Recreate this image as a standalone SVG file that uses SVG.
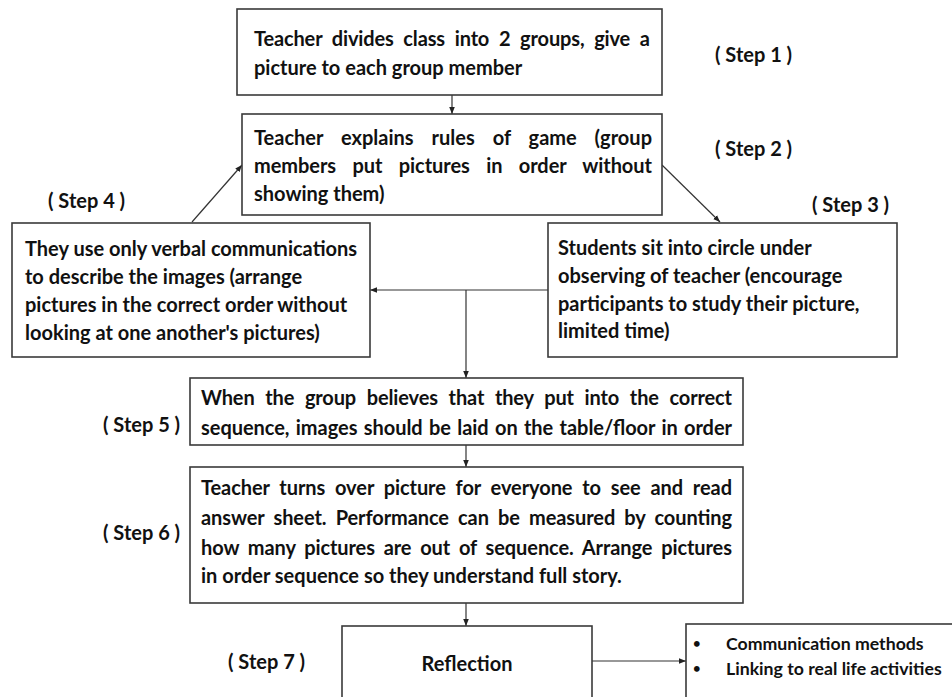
<svg xmlns="http://www.w3.org/2000/svg" width="952" height="697" viewBox="0 0 952 697">
  <defs>
    <marker id="ah" viewBox="0 0 10 10" refX="10" refY="5" markerWidth="7" markerHeight="7" orient="auto" markerUnits="userSpaceOnUse">
      <path d="M0,1 L10,5 L0,9 z" fill="#222"/>
    </marker>
  </defs>
  <style>
    .box{fill:#fff;stroke:#3a3a3a;stroke-width:1.6}
    .t{font-family:Lato,"Liberation Sans",sans-serif;font-weight:700;font-size:20px;fill:#111}
    .s{font-size:17.7px}
    .b{font-size:13px}
    .c{stroke:#333;stroke-width:1.2;fill:none;marker-end:url(#ah)}
  </style>
  <rect width="952" height="697" fill="#fff"/>

  <!-- connectors -->
  <g id="connectors">
    <path class="c" d="M452,95 L452,114"/>
    <path class="c" d="M662,165 L720,222"/>
    <path class="c" d="M548,290 L370,290"/>
    <path class="c" d="M192,222 L242,165"/>
    <path class="c" d="M466,290 L466,378"/>
    <path class="c" d="M466,445 L466,467"/>
    <path class="c" d="M466,603 L466,626"/>
    <path class="c" d="M592,661 L686,661"/>
  </g>

  <g id="step1">
    <rect class="box" x="237" y="9" width="425" height="86"/>
    <text class="t" x="254" y="46" word-spacing="5" textLength="396" lengthAdjust="spacing">Teacher divides class into 2 groups, give a</text>
    <text class="t" x="254" y="75">picture to each group member</text>
    <text class="t" x="715" y="62">( Step 1 )</text>
  </g>

  <g id="step2">
    <rect class="box" x="242" y="114" width="420" height="101"/>
    <text class="t" x="254" y="145" word-spacing="13" textLength="398" lengthAdjust="spacing">Teacher explains rules of game (group</text>
    <text class="t" x="254" y="173" word-spacing="11.5" textLength="398" lengthAdjust="spacing">members put pictures in order without</text>
    <text class="t" x="254" y="201">showing them)</text>
    <text class="t" x="715" y="156">( Step 2 )</text>
  </g>

  <g id="step3">
    <rect class="box" x="548" y="223" width="349" height="134"/>
    <text class="t" x="558" y="255">Students sit into circle under</text>
    <text class="t" x="558" y="283">observing of teacher (encourage</text>
    <text class="t" x="558" y="311">participants to study their picture,</text>
    <text class="t" x="558" y="338">limited time)</text>
    <text class="t" x="812" y="212">( Step 3 )</text>
  </g>

  <g id="step4">
    <rect class="box" x="12" y="223" width="358" height="134"/>
    <text class="t" x="25" y="256">They use only verbal communications</text>
    <text class="t" x="25" y="284">to describe the images (arrange</text>
    <text class="t" x="25" y="312">pictures in the correct order without</text>
    <text class="t" x="25" y="340">looking at one another's pictures)</text>
    <text class="t" x="48" y="208">( Step 4 )</text>
  </g>

  <g id="step5">
    <rect class="box" x="190" y="378" width="553" height="67"/>
    <text class="t" x="201" y="405" word-spacing="6" textLength="531" lengthAdjust="spacing">When the group believes that they put into the correct</text>
    <text class="t" x="201" y="435" word-spacing="1.5" textLength="531" lengthAdjust="spacing">sequence, images should be laid on the table/floor in order</text>
    <text class="t" x="103" y="432">( Step 5 )</text>
  </g>

  <g id="step6">
    <rect class="box" x="190" y="467" width="553" height="136"/>
    <text class="t" x="201" y="495" word-spacing="5" textLength="531" lengthAdjust="spacing">Teacher turns over picture for everyone to see and read</text>
    <text class="t" x="201" y="525" word-spacing="4.4" textLength="531" lengthAdjust="spacing">answer sheet. Performance can be measured by counting</text>
    <text class="t" x="201" y="555" word-spacing="4" textLength="531" lengthAdjust="spacing">how many pictures are out of sequence. Arrange pictures</text>
    <text class="t" x="201" y="583">in order sequence so they understand full story.</text>
    <text class="t" x="103" y="540">( Step 6 )</text>
  </g>

  <g id="step7">
    <rect class="box" x="342" y="626" width="250" height="90"/>
    <text class="t" x="467" y="671" text-anchor="middle">Reflection</text>
    <text class="t" x="228" y="669">( Step 7 )</text>
  </g>

  <g id="outcomes">
    <rect class="box" x="686" y="624" width="280" height="90"/>
    <text class="t b" x="693" y="648">•</text>
    <text class="t s" x="726" y="650">Communication methods</text>
    <text class="t b" x="693" y="673">•</text>
    <text class="t s" x="726" y="675">Linking to real life activities</text>
  </g>
</svg>
